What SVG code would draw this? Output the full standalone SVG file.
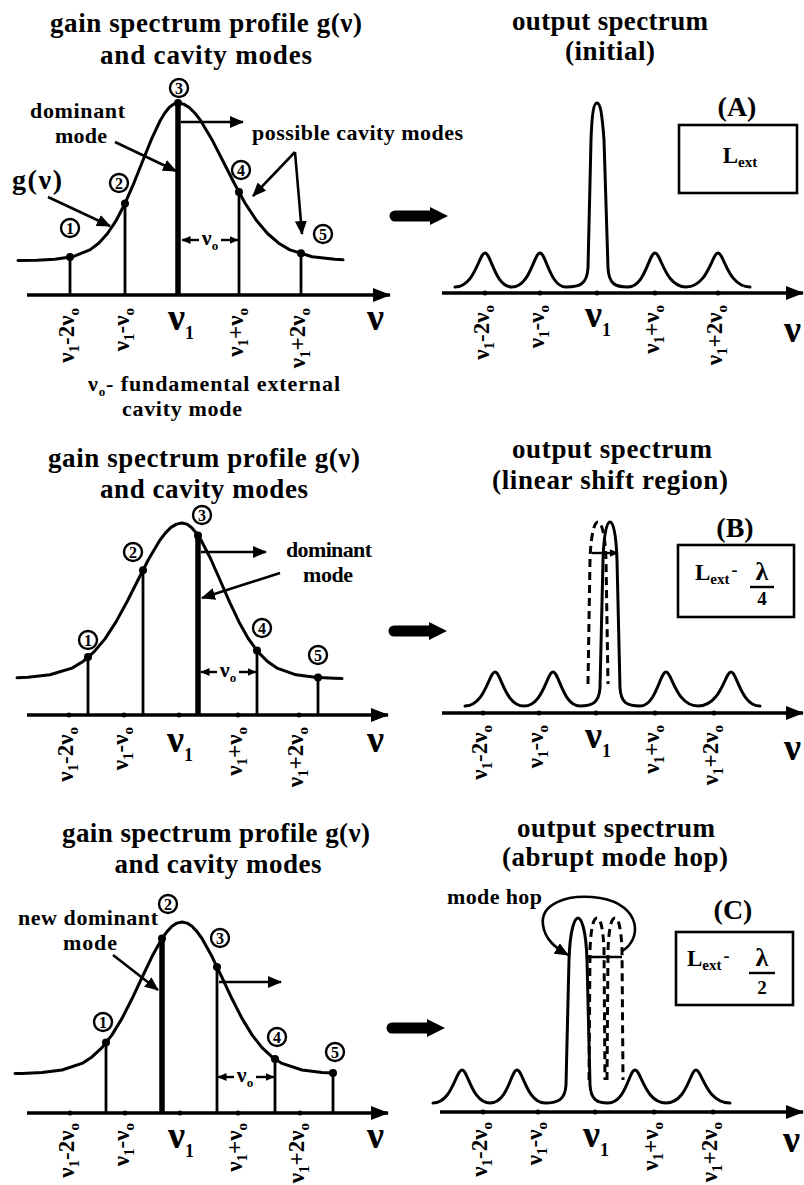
<svg xmlns="http://www.w3.org/2000/svg" width="804" height="1185" viewBox="0 0 804 1185" font-family="'Liberation Serif', 'Times New Roman', serif">
<style>
text{font-family:'Liberation Serif','Times New Roman',serif;font-weight:700;fill:#000}
.title{font-size:27px;text-anchor:middle}
.ann{font-size:22px}
.lbl{font-size:23px;text-anchor:end}
.sb{font-size:15px}
.big{font-size:38px}
.ln{stroke:#000;stroke-width:2.6;fill:none}
.curve{stroke:#000;stroke-width:3;fill:none;stroke-linejoin:round;stroke-linecap:round}
.axis{stroke:#000;stroke-width:3.5;fill:none}
.mode{stroke:#000;stroke-width:2.8}
.dom{stroke:#000;stroke-width:5.5}
.dash{stroke:#000;stroke-width:3;fill:none;stroke-dasharray:8 5}
.dot{fill:#000}
.cn circle{fill:#fff;stroke:#000;stroke-width:2.4}
.cn text{font-size:16px;text-anchor:middle}
.box{fill:#fff;stroke:#000;stroke-width:2.6}
.arr{stroke:#000;stroke-width:2.6;fill:none;marker-end:url(#ah)}
.sarr{stroke:#000;stroke-width:2.4;fill:none;marker-end:url(#sh)}
</style>
<defs>
<marker id="ah" viewBox="0 0 14 12" refX="13" refY="6" markerWidth="14" markerHeight="12" markerUnits="userSpaceOnUse" orient="auto"><path d="M0,0 L14,6 L0,12 z"/></marker>
<marker id="axh" viewBox="0 0 18 14" refX="17" refY="7" markerWidth="18" markerHeight="14" markerUnits="userSpaceOnUse" orient="auto"><path d="M0,0 L18,7 L0,14 z"/></marker>
<marker id="sh" viewBox="0 0 9 8" refX="8.5" refY="4" markerWidth="9" markerHeight="8" markerUnits="userSpaceOnUse" orient="auto"><path d="M0,0 L9,4 L0,8 z"/></marker>
<path id="bigarrow" d="M5,-5.5 H40 V-9 L58,0 L40,9 V5.5 H5 A5.5,5.5 0 0 1 5,-5.5 z"/>
</defs>

<!-- ================= PANEL A : gain ================= -->
<g id="a-gain">
<text class="title" x="206" y="32" textLength="312">gain spectrum profile g(ν)</text>
<text class="title" x="206" y="64" textLength="212">and cavity modes</text>
<line class="axis" x1="27" y1="295" x2="390" y2="295" marker-end="url(#axh)"/>
<polyline class="curve" points="18,260.6 37,260.3 54.7,259.3 72.3,256.8 89.9,249.9 98.7,243.2 107.5,233.5 116.3,220.3 125.1,203.2 134,182.8 142.8,160.7 151.6,138.9 160.4,120.2 164.8,113 169.2,107.5 173.6,104.1 178,103 183.6,104.1 189.2,107.5 194.8,113 200.4,120.2 211.6,138.9 222.8,160.7 234,182.8 245.1,203.2 256.3,220.3 267.5,233.5 278.7,243.2 289.9,249.9 312.3,256.8 334.7,259.3 343,259.8"/>
<line class="mode" x1="70" y1="257" x2="70" y2="295"/>
<line class="mode" x1="125" y1="203.5" x2="125" y2="295"/>
<line class="dom" x1="178" y1="103" x2="178" y2="295"/>
<line class="mode" x1="239" y1="192" x2="239" y2="295"/>
<line class="mode" x1="301" y1="253.3" x2="301" y2="295"/>
<circle class="dot" cx="70" cy="257" r="4"/>
<circle class="dot" cx="125" cy="203.5" r="4"/>
<circle class="dot" cx="178" cy="103" r="4"/>
<circle class="dot" cx="239" cy="192" r="4"/>
<circle class="dot" cx="301" cy="253.3" r="4"/>
<g id="a-n1" class="cn"><circle cx="70" cy="228" r="9"/><text x="70" y="233.5">1</text></g>
<g id="a-n2" class="cn"><circle cx="119" cy="183" r="9"/><text x="119" y="188.5">2</text></g>
<g id="a-n3" class="cn"><circle cx="179" cy="88" r="9"/><text x="179" y="93.5">3</text></g>
<g id="a-n4" class="cn"><circle cx="241" cy="170" r="9"/><text x="241" y="175.5">4</text></g>
<g id="a-n5" class="cn"><circle cx="323" cy="234" r="9"/><text x="323" y="239.5">5</text></g>
<text class="ann" x="30" y="118" textLength="95">dominant</text>
<text class="ann" x="55" y="143" textLength="52">mode</text>
<text class="ann" x="252" y="140" textLength="211">possible cavity modes</text>
<text x="12" y="189" font-size="28" textLength="50">g(ν)</text>
<text class="ann" x="210" y="245" text-anchor="middle">ν<tspan font-size="13" dy="5">o</tspan></text>
<text class="lbl" transform="translate(74,308) rotate(-90)">ν<tspan class="sb" dy="5">1</tspan><tspan dy="-5">-2ν</tspan><tspan class="sb" dy="5">o</tspan></text>
<text class="lbl" transform="translate(129,308) rotate(-90)">ν<tspan class="sb" dy="5">1</tspan><tspan dy="-5">-ν</tspan><tspan class="sb" dy="5">o</tspan></text>
<text class="lbl" transform="translate(243,308) rotate(-90)">ν<tspan class="sb" dy="5">1</tspan><tspan dy="-5">+ν</tspan><tspan class="sb" dy="5">o</tspan></text>
<text class="lbl" transform="translate(305,308) rotate(-90)">ν<tspan class="sb" dy="5">1</tspan><tspan dy="-5">+2ν</tspan><tspan class="sb" dy="5">o</tspan></text>
<text class="big" x="168" y="330">ν<tspan font-size="18" dy="9">1</tspan></text>
<text class="big" x="367" y="330">ν</text>
<text class="ann" x="88" y="391" textLength="252">ν<tspan font-size="13" dy="5">o</tspan><tspan dy="-5">- fundamental external</tspan></text>
<text class="ann" x="122" y="416" textLength="120">cavity mode</text>
</g>

<!-- ================= PANEL A : output ================= -->
<g id="a-out">
<text class="title" x="610" y="30" textLength="196">output spectrum</text>
<text class="title" x="610" y="60" textLength="90">(initial)</text>
<line class="axis" x1="442" y1="293" x2="803" y2="293" marker-end="url(#axh)"/>
<circle class="dot" cx="485" cy="293" r="2.5"/><circle class="dot" cx="540" cy="293" r="2.5"/><circle class="dot" cx="597" cy="293" r="2.5"/><circle class="dot" cx="655" cy="293" r="2.5"/><circle class="dot" cx="718" cy="293" r="2.5"/>
<path class="curve" d="M455,287 C475,287 479,253 485,253 C491,253 495,287 512,287 C530,287 534,253 540,253 C546,253 550,287 566,287 C580,287 587,284 588,268 L591,140 C592,112 594,103 597,103 C600,103 602,112 604,140 L608,268 C609,284 615,287 628,287 C645,287 649,253 655,253 C661,253 665,287 686,287 C708,287 712,253 718,253 C724,253 728,287 750,287"/>
<text x="737" y="116" font-size="28" text-anchor="middle">(A)</text>
<g id="a-box"><rect class="box" x="679" y="125" width="118" height="68"/>
<text x="740" y="163" font-size="23" text-anchor="middle">L<tspan font-size="15" dy="4">ext</tspan></text></g>
<text class="lbl" transform="translate(489,305) rotate(-90)">ν<tspan class="sb" dy="5">1</tspan><tspan dy="-5">-2ν</tspan><tspan class="sb" dy="5">o</tspan></text>
<text class="lbl" transform="translate(544,305) rotate(-90)">ν<tspan class="sb" dy="5">1</tspan><tspan dy="-5">-ν</tspan><tspan class="sb" dy="5">o</tspan></text>
<text class="lbl" transform="translate(659,305) rotate(-90)">ν<tspan class="sb" dy="5">1</tspan><tspan dy="-5">+ν</tspan><tspan class="sb" dy="5">o</tspan></text>
<text class="lbl" transform="translate(722,305) rotate(-90)">ν<tspan class="sb" dy="5">1</tspan><tspan dy="-5">+2ν</tspan><tspan class="sb" dy="5">o</tspan></text>
<text class="big" x="585" y="327">ν<tspan font-size="18" dy="9">1</tspan></text>
<text class="big" x="784" y="342">ν</text>
</g>

<!-- ================= PANEL B : gain ================= -->
<g id="b-gain">
<text class="title" x="204" y="467" textLength="312">gain spectrum profile g(ν)</text>
<text class="title" x="204" y="498" textLength="208">and cavity modes</text>
<line class="axis" x1="27" y1="715" x2="388" y2="715" marker-end="url(#axh)"/>
<circle class="dot" cx="69" cy="715" r="2.5"/><circle class="dot" cx="124" cy="715" r="2.5"/><circle class="dot" cx="179" cy="715" r="2.5"/><circle class="dot" cx="238" cy="715" r="2.5"/><circle class="dot" cx="299" cy="715" r="2.5"/>
<polyline class="curve" points="17,677.8 28,677.3 50,674.8 72,668.1 83,661.5 94,651.9 105,638.9 116,621.9 127,601.8 138,580 149,558.5 160,540 165.5,532.9 171,527.4 176.5,524.1 182,523 186.8,524.1 191.5,527.4 196.3,532.9 201,540 210.5,558.5 220,580 229.5,601.8 239,621.9 248.5,638.9 258,651.9 267.5,661.5 277,668.1 296,674.8 315,677.3 334,678.3 342,678.6"/>
<line class="mode" x1="88" y1="657.1" x2="88" y2="715"/>
<line class="mode" x1="143" y1="570.3" x2="143" y2="715"/>
<line class="dom" x1="198" y1="535.5" x2="198" y2="715"/>
<line class="mode" x1="257" y1="650.5" x2="257" y2="715"/>
<line class="mode" x1="318" y1="677.4" x2="318" y2="715"/>
<circle class="dot" cx="88" cy="657.1" r="4"/>
<circle class="dot" cx="143" cy="570.3" r="4"/>
<circle class="dot" cx="198" cy="535.5" r="4"/>
<circle class="dot" cx="257" cy="650.5" r="4"/>
<circle class="dot" cx="318" cy="677.4" r="4"/>
<g id="b-n1" class="cn"><circle cx="88" cy="640" r="9"/><text x="88" y="645.5">1</text></g>
<g id="b-n2" class="cn"><circle cx="133" cy="552" r="9"/><text x="133" y="557.5">2</text></g>
<g id="b-n3" class="cn"><circle cx="202" cy="515" r="9"/><text x="202" y="520.5">3</text></g>
<g id="b-n4" class="cn"><circle cx="262" cy="628" r="9"/><text x="262" y="633.5">4</text></g>
<g id="b-n5" class="cn"><circle cx="318" cy="655" r="9"/><text x="318" y="660.5">5</text></g>
<text class="ann" x="286" y="557" textLength="86">dominant</text>
<text class="ann" x="303" y="582" textLength="50">mode</text>
<text class="ann" x="228" y="677" text-anchor="middle">ν<tspan font-size="13" dy="5">o</tspan></text>
<text class="lbl" transform="translate(73,727) rotate(-90)">ν<tspan class="sb" dy="5">1</tspan><tspan dy="-5">-2ν</tspan><tspan class="sb" dy="5">o</tspan></text>
<text class="lbl" transform="translate(128,727) rotate(-90)">ν<tspan class="sb" dy="5">1</tspan><tspan dy="-5">-ν</tspan><tspan class="sb" dy="5">o</tspan></text>
<text class="lbl" transform="translate(242,727) rotate(-90)">ν<tspan class="sb" dy="5">1</tspan><tspan dy="-5">+ν</tspan><tspan class="sb" dy="5">o</tspan></text>
<text class="lbl" transform="translate(303,727) rotate(-90)">ν<tspan class="sb" dy="5">1</tspan><tspan dy="-5">+2ν</tspan><tspan class="sb" dy="5">o</tspan></text>
<text class="big" x="167" y="752">ν<tspan font-size="18" dy="9">1</tspan></text>
<text class="big" x="367" y="752">ν</text>
</g>

<!-- ================= PANEL B : output ================= -->
<g id="b-out">
<text class="title" x="612" y="458" textLength="200">output spectrum</text>
<text class="title" x="610" y="489" textLength="236">(linear shift region)</text>
<line class="axis" x1="442" y1="713" x2="803" y2="713" marker-end="url(#axh)"/>
<circle class="dot" cx="483" cy="713" r="2.5"/><circle class="dot" cx="539" cy="713" r="2.5"/><circle class="dot" cx="596" cy="713" r="2.5"/><circle class="dot" cx="655" cy="713" r="2.5"/><circle class="dot" cx="714" cy="713" r="2.5"/>
<path class="curve" d="M465,706 C485,706 489,672 495,672 C501,672 505,706 524,706 C543,706 547,672 553,672 C559,672 563,706 580,706 C592,706 599,703 600,688 L603,560 C604,531 607,522 610,522 C613,522 616,531 617,560 L620,688 C621,703 627,706 640,706 C656,706 660,672 666,672 C672,672 676,706 698,706 C721,706 725,672 731,672 C737,672 741,706 760,706"/>
<path class="dash" d="M588,684 L590,560 C591,531 595,522 598,522 C601,522 605,531 606,560 L608,684"/>
<text x="735" y="537" font-size="28" text-anchor="middle">(B)</text>
<g id="b-box"><rect class="box" x="678" y="545" width="116" height="72"/>
<text x="695" y="580" font-size="23">L<tspan font-size="15" dy="4">ext</tspan><tspan font-size="18" dy="-8" dx="2">-</tspan></text>
<text x="762" y="580" font-size="26" text-anchor="middle">λ</text>
<line x1="750" y1="587" x2="774" y2="587" stroke="#000" stroke-width="2.4"/>
<text x="762" y="605" font-size="19" text-anchor="middle">4</text></g>
<text class="lbl" transform="translate(487,725) rotate(-90)">ν<tspan class="sb" dy="5">1</tspan><tspan dy="-5">-2ν</tspan><tspan class="sb" dy="5">o</tspan></text>
<text class="lbl" transform="translate(543,725) rotate(-90)">ν<tspan class="sb" dy="5">1</tspan><tspan dy="-5">-ν</tspan><tspan class="sb" dy="5">o</tspan></text>
<text class="lbl" transform="translate(659,725) rotate(-90)">ν<tspan class="sb" dy="5">1</tspan><tspan dy="-5">+ν</tspan><tspan class="sb" dy="5">o</tspan></text>
<text class="lbl" transform="translate(718,725) rotate(-90)">ν<tspan class="sb" dy="5">1</tspan><tspan dy="-5">+2ν</tspan><tspan class="sb" dy="5">o</tspan></text>
<text class="big" x="585" y="748">ν<tspan font-size="18" dy="9">1</tspan></text>
<text class="big" x="784" y="760">ν</text>
</g>

<!-- ================= PANEL C : gain ================= -->
<g id="c-gain">
<text class="title" x="216" y="842" textLength="308">gain spectrum profile g(ν)</text>
<text class="title" x="218" y="873" textLength="207">and cavity modes</text>
<line class="axis" x1="27" y1="1113" x2="388" y2="1113" marker-end="url(#axh)"/>
<circle class="dot" cx="70" cy="1113" r="2.5"/><circle class="dot" cx="125" cy="1113" r="2.5"/><circle class="dot" cx="180" cy="1113" r="2.5"/><circle class="dot" cx="238" cy="1113" r="2.5"/><circle class="dot" cx="300" cy="1113" r="2.5"/>
<polyline class="curve" points="15,1073.5 22,1073.4 42,1072.4 62,1070 82,1063.4 92,1056.9 102,1047.6 112,1034.9 122,1018.4 132,998.8 142,977.5 152,956.6 162,938.5 167,931.6 172,926.3 177,923.1 182,922 187,923.1 192,926.3 197,931.6 202,938.5 212,956.6 222,977.5 232,998.8 242,1018.4 252,1034.9 262,1047.6 272,1056.9 282,1063.4 302,1070 322,1072.4 333,1073"/>
<line class="mode" x1="106" y1="1042.5" x2="106" y2="1113"/>
<line class="dom" x1="162" y1="938.5" x2="162" y2="1113"/>
<line class="mode" x1="217" y1="967" x2="217" y2="1113"/>
<line class="mode" x1="275" y1="1058.9" x2="275" y2="1113"/>
<line class="mode" x1="333" y1="1073" x2="333" y2="1113"/>
<circle class="dot" cx="106" cy="1042.5" r="4"/>
<circle class="dot" cx="162" cy="938.5" r="4"/>
<circle class="dot" cx="217" cy="967" r="4"/>
<circle class="dot" cx="275" cy="1058.9" r="4"/>
<circle class="dot" cx="333" cy="1073" r="4"/>
<g id="c-n1" class="cn"><circle cx="103" cy="1022" r="9"/><text x="103" y="1027.5">1</text></g>
<g id="c-n2" class="cn"><circle cx="168" cy="904" r="9"/><text x="168" y="909.5">2</text></g>
<g id="c-n3" class="cn"><circle cx="220" cy="938" r="9"/><text x="220" y="943.5">3</text></g>
<g id="c-n4" class="cn"><circle cx="277" cy="1037" r="9"/><text x="277" y="1042.5">4</text></g>
<g id="c-n5" class="cn"><circle cx="335" cy="1052" r="9"/><text x="335" y="1057.5">5</text></g>
<text class="ann" x="18" y="925" textLength="140">new dominant</text>
<text class="ann" x="63" y="950" textLength="54">mode</text>
<text class="ann" x="245" y="1082" text-anchor="middle">ν<tspan font-size="13" dy="5">o</tspan></text>
<text class="lbl" transform="translate(74,1123) rotate(-90)">ν<tspan class="sb" dy="5">1</tspan><tspan dy="-5">-2ν</tspan><tspan class="sb" dy="5">o</tspan></text>
<text class="lbl" transform="translate(129,1123) rotate(-90)">ν<tspan class="sb" dy="5">1</tspan><tspan dy="-5">-ν</tspan><tspan class="sb" dy="5">o</tspan></text>
<text class="lbl" transform="translate(242,1123) rotate(-90)">ν<tspan class="sb" dy="5">1</tspan><tspan dy="-5">+ν</tspan><tspan class="sb" dy="5">o</tspan></text>
<text class="lbl" transform="translate(304,1123) rotate(-90)">ν<tspan class="sb" dy="5">1</tspan><tspan dy="-5">+2ν</tspan><tspan class="sb" dy="5">o</tspan></text>
<text class="big" x="168" y="1148">ν<tspan font-size="18" dy="9">1</tspan></text>
<text class="big" x="367" y="1148">ν</text>
</g>

<!-- ================= PANEL C : output ================= -->
<g id="c-out">
<text class="title" x="616" y="837" textLength="198">output spectrum</text>
<text class="title" x="615" y="866" textLength="226">(abrupt mode hop)</text>
<text class="ann" x="447" y="904" textLength="95">mode hop</text>
<line class="axis" x1="440" y1="1112" x2="803" y2="1112" marker-end="url(#axh)"/>
<circle class="dot" cx="483" cy="1112" r="2.5"/><circle class="dot" cx="538" cy="1112" r="2.5"/><circle class="dot" cx="595" cy="1112" r="2.5"/><circle class="dot" cx="654" cy="1112" r="2.5"/><circle class="dot" cx="713" cy="1112" r="2.5"/>
<path class="curve" d="M433,1103 C452,1103 456,1070 462,1070 C468,1070 472,1103 490,1103 C508,1103 511,1070 517,1070 C523,1070 527,1103 545,1103 C558,1103 565,1100 566,1085 L569,960 C570,928 575,918 578,918 C581,918 586,928 587,960 L590,1085 C591,1100 597,1103 608,1103 C626,1103 629,1070 635,1070 C641,1070 645,1103 666,1103 C687,1103 690,1070 696,1070 C702,1070 706,1103 730,1103"/>
<path class="dash" d="M589,1080 L590,950 C591,925 594,918 597,918 C600,918 603,925 604,950 L605,1080"/>
<path class="dash" d="M607,1080 L608,950 C609,925 612,918 615,918 C618,918 621,925 622,950 L623,1080"/>
<line class="ln" x1="588" y1="957" x2="622" y2="957"/>
<text x="733" y="919" font-size="28" text-anchor="middle">(C)</text>
<g id="c-box"><rect class="box" x="676" y="932" width="117" height="73"/>
<text x="687" y="966" font-size="23">L<tspan font-size="15" dy="4">ext</tspan><tspan font-size="18" dy="-8" dx="2">-</tspan></text>
<text x="762" y="966" font-size="26" text-anchor="middle">λ</text>
<line x1="749" y1="973" x2="775" y2="973" stroke="#000" stroke-width="2.4"/>
<text x="762" y="994" font-size="19" text-anchor="middle">2</text></g>
<text class="lbl" transform="translate(487,1122) rotate(-90)">ν<tspan class="sb" dy="5">1</tspan><tspan dy="-5">-2ν</tspan><tspan class="sb" dy="5">o</tspan></text>
<text class="lbl" transform="translate(542,1122) rotate(-90)">ν<tspan class="sb" dy="5">1</tspan><tspan dy="-5">-ν</tspan><tspan class="sb" dy="5">o</tspan></text>
<text class="lbl" transform="translate(658,1122) rotate(-90)">ν<tspan class="sb" dy="5">1</tspan><tspan dy="-5">+ν</tspan><tspan class="sb" dy="5">o</tspan></text>
<text class="lbl" transform="translate(717,1122) rotate(-90)">ν<tspan class="sb" dy="5">1</tspan><tspan dy="-5">+2ν</tspan><tspan class="sb" dy="5">o</tspan></text>
<text class="big" x="583" y="1147">ν<tspan font-size="18" dy="9">1</tspan></text>
<text class="big" x="783" y="1152">ν</text>
</g>

<!-- ================= connectors ================= -->
<g id="connectors">
<use href="#bigarrow" transform="translate(390,216)"/>
<use href="#bigarrow" transform="translate(389,631)"/>
<use href="#bigarrow" transform="translate(387,1028)"/>
<path class="arr" d="M115,142 L176,171"/>
<path class="arr" d="M181,122 L243,122"/>
<path class="arr" d="M48,197 L110,226"/>
<path class="arr" d="M295,152 L253,196"/>
<path class="arr" d="M295,152 L302,234"/>
<path class="sarr" d="M199,240 L182,240"/>
<path class="sarr" d="M221,240 L238,240"/>
<path class="arr" d="M201,552 L266,552"/>
<path class="arr" d="M280,573 L202,598"/>
<path class="sarr" d="M217,672 L201,672"/>
<path class="sarr" d="M239,672 L256,672"/>
<path class="sarr" d="M592,553 L618,553"/>
<path class="arr" d="M219,982 L281,982"/>
<path class="arr" d="M113,955 L158,990"/>
<path class="sarr" d="M234,1077 L218,1077"/>
<path class="sarr" d="M256,1077 L274,1077"/>
<path class="arr" d="M622,951 C642,940 642,905 600,898 C565,893 540,905 543,925 C545,940 556,948 568,955"/>
</g>
</svg>
